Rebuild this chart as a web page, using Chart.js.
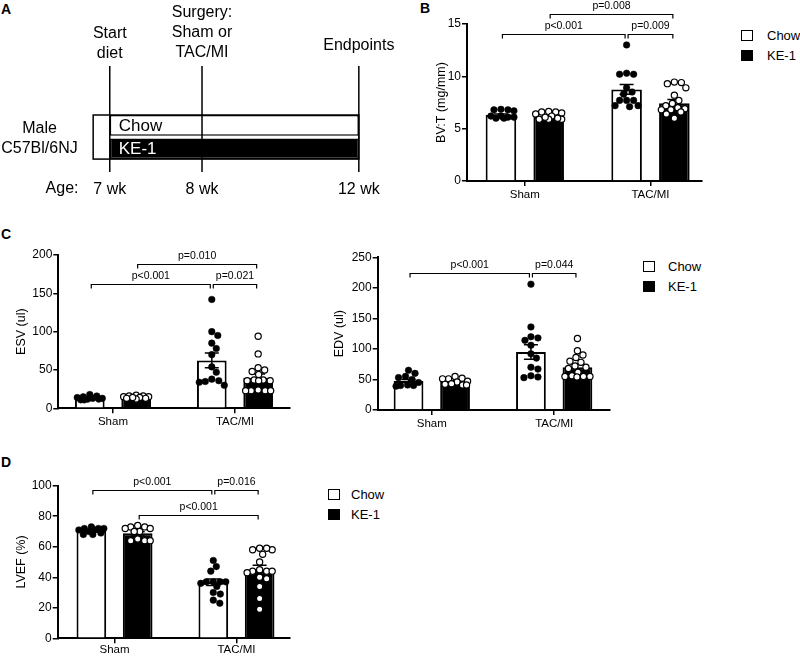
<!DOCTYPE html>
<html>
<head>
<meta charset="utf-8">
<script src="https://cdn.jsdelivr.net/npm/chart.js@4.4.1/dist/chart.umd.min.js"></script>
<style>
  body { margin: 0; background: #fff; font-family: 'Liberation Sans', Arial, sans-serif; color: #000; }
  #page { position: relative; width: 800px; height: 657px; overflow: hidden; }
  canvas { position: absolute; }
  .tag { position: absolute; font-weight: bold; font-size: 14px; line-height: 14px; }
  .legend { position: absolute; font-size: 13px; }
  .legend .row { display: flex; align-items: center; height: 20px; }
  .legend .box { width: 12px; height: 11px; border: 1.5px solid #000; box-sizing: border-box; }
</style>
</head>
<body>
<div id="page">
  <div class="tag" style="left:1px; top:2px">A</div>
  <div class="tag" style="left:420px; top:1px">B</div>
  <div class="tag" style="left:1px; top:227px">C</div>
  <div class="tag" style="left:1px; top:455px">D</div>

  <canvas id="chartA" width="400" height="200" style="left:0; top:0"></canvas>
  <canvas id="chartB" width="300" height="205" style="left:420px; top:0"></canvas>
  <canvas id="chartESV" width="300" height="197" style="left:0; top:235px"></canvas>
  <canvas id="chartEDV" width="300" height="197" style="left:320px; top:237px"></canvas>
  <canvas id="chartD" width="300" height="192" style="left:0; top:465px"></canvas>

  <div class="legend" id="legB" style="left:741px; top:25px" data-gap="14"></div>
  <div class="legend" id="legC" style="left:643px; top:256px" data-gap="13"></div>
  <div class="legend" id="legD" style="left:328px; top:484px" data-gap="11"></div>
</div>

<script>
const FONT = "'Liberation Sans', Arial, sans-serif";
Chart.defaults.font.family = FONT;
Chart.defaults.color = '#000';

// ---- panel A: study timeline (schematic, not to scale)
const timelineAges = ['7 wk', '8 wk', '12 wk'];
const timelinePos = [0, 1, 2.7];
const timelineEvents = [['Start', 'diet'], ['Surgery:', 'Sham or', 'TAC/MI'], ['Endpoints']];
const acclimationStart = -0.18;
const mouseLabel = ['Male', 'C57Bl/6NJ'];

// ---- shared categories
const groups = ['Sham', 'TAC/MI'];
const diets = ['Chow', 'KE-1'];

// ---- panel B: BV:T (mg/mm)   [Sham points], [TAC/MI points]
const bvtChow = [[6.8, 6.8, 6.85, 6.7, 6.2, 6.1, 6.0, 6.0, 6.1, 6.2],
                 [13.0, 10.3, 10.2, 10.2, 8.9, 8.5, 8.3, 7.7, 7.7, 7.7, 7.2, 7.2, 7.1]];
const bvtKe = [[6.6, 6.65, 6.6, 6.5, 6.4, 6.2, 5.9, 5.9, 6.0, 5.9, 6.1],
               [9.4, 9.3, 9.45, 8.9, 8.2, 7.7, 7.4, 7.2, 7.0, 6.9, 6.8, 6.8, 6.6, 6.4, 6.0]];
const bvtMean = [[6.3, 8.75], [6.15, 7.42]];
const bvtSem = [[0.1, 0.47], [0.08, 0.36]];
const bvtBrackets = [[0, 0, 1, 0, 14, 'p<0.001'], [1, 0, 1, 1, 14, 'p=0.009'], [0, 1, 1, 1, 16, 'p=0.008']];

// ---- panel C: ESV (ul)
const esvChow = [[11, 12, 13, 14, 15, 16, 12, 11, 18, 13],
                 [142, 100, 95, 85, 78, 70, 54, 47, 38, 36, 34, 35, 30]];
const esvKe = [[16, 17, 16, 15, 14, 13, 12, 14, 15, 13],
               [94, 71, 53, 50, 48, 44, 37, 37, 36, 36, 36, 23, 23, 23, 23, 24]];
const esvMean = [[13.5, 62.5], [14, 40]];
const esvSem = [[0.8, 9.5], [0.6, 4.8]];
const esvBrackets = [[0, 0, 1, 0, 162, 'p<0.001'], [1, 0, 1, 1, 162, 'p=0.021'], [0, 1, 1, 1, 188, 'p=0.010']];

// ---- panel C: EDV (ul)
const edvChow = [[65, 60, 55, 53, 50, 45, 40, 39, 40, 41],
                 [206, 136, 120, 118, 114, 106, 92, 85, 70, 67, 56, 54, 53]];
const edvKe = [[55, 52, 51, 51, 47, 46, 43, 42, 41, 41],
               [117, 97, 90, 86, 80, 78, 72, 70, 68, 62, 56, 55, 55, 54, 55]];
const edvMean = [[47.5, 95], [46.5, 70]];
const edvSem = [[2.5, 12], [1.3, 5.5]];
const edvBrackets = [[0, 0, 1, 0, 224, 'p<0.001'], [1, 0, 1, 1, 224, 'p=0.044']];

// ---- panel D: LVEF (%)
const lvefChow = [[72, 71, 73, 72, 70, 69, 72, 68, 68, 71],
                  [51, 47, 44, 37, 37, 37, 37, 36, 34, 30, 29, 25, 23]];
const lvefKe = [[74, 73, 73, 72, 72, 70, 70, 64, 64, 64, 65],
                [59, 58, 58, 59, 55, 50, 45, 44, 44, 44, 43, 40, 39, 34, 26, 19]];
const lvefMean = [[70.3, 36.7], [68.8, 44.8]];
const lvefSem = [[0.5, 2.1], [1.1, 3.0]];
const lvefBrackets = [[0, 0, 1, 0, 97, 'p<0.001'], [1, 0, 1, 1, 97, 'p=0.016'], [0, 1, 1, 1, 81, 'p<0.001']];

// legends
document.querySelectorAll('.legend').forEach(el => {
  const gap = el.dataset.gap;
  el.innerHTML = diets.map((d, i) =>
    `<div class="row"><span class="box" style="background:${i === 0 ? '#fff' : '#000'}; margin-right:${gap}px"></span>${d}</div>`
  ).join('');
});

// ---------- panel A
const eventBaselines = [58, 57, 50];
const timelinePlugin = {
  id: 'timeline',
  afterDatasetsDraw(chart) {
    const { ctx } = chart;
    const x = chart.scales.x;
    const bars = chart.getDatasetMeta(0).data;
    const top = bars[0].y - bars[0].height / 2;
    const last = bars[bars.length - 1];
    const bottom = last.y + last.height / 2;
    const endX = x.getPixelForValue(timelinePos[timelinePos.length - 1]);
    const startX = x.getPixelForValue(acclimationStart);
    ctx.save();
    ctx.strokeStyle = '#000';
    ctx.lineWidth = 1.5;
    ctx.strokeRect(startX, top, endX - startX, bottom - top);
    timelinePos.forEach(p => {
      const px = x.getPixelForValue(p);
      ctx.beginPath();
      ctx.moveTo(px, 66);
      ctx.lineTo(px, 172);
      ctx.stroke();
    });

    ctx.fillStyle = '#000';
    ctx.font = '16px ' + FONT;
    ctx.textAlign = 'center';
    ctx.textBaseline = 'alphabetic';
    timelineEvents.forEach((lines, i) => {
      const px = x.getPixelForValue(timelinePos[i]);
      lines.forEach((t, j) => ctx.fillText(t, px, eventBaselines[i] - (lines.length - 1 - j) * 19.8));
    });
    ctx.fillText(mouseLabel[0], 39.5, 132.7);
    ctx.fillText(mouseLabel[1], 39.5, 152.7);
    ctx.textAlign = 'right';
    ctx.fillText('Age:', 78.5, 193.3);

    ctx.font = '17px ' + FONT;
    ctx.textAlign = 'left';
    ctx.textBaseline = 'middle';
    bars.forEach((b, i) => {
      ctx.fillStyle = i === 0 ? '#000' : '#fff';
      ctx.fillText(diets[i], x.getPixelForValue(timelinePos[0]) + 9, b.y + 1);
    });
    ctx.restore();
  }
};

new Chart(document.getElementById('chartA'), {
  type: 'bar',
  data: {
    labels: diets,
    datasets: [{
      data: diets.map(() => [timelinePos[0], timelinePos[timelinePos.length - 1]]),
      backgroundColor: ['#fff', '#000'],
      borderColor: '#000',
      borderWidth: 1.5,
      borderSkipped: false,
      categoryPercentage: 1,
      barPercentage: 0.88
    }]
  },
  options: {
    indexAxis: 'y',
    responsive: false,
    animation: false,
    layout: { padding: { left: 82.1, right: 20.3, top: 113.6, bottom: 0 } },
    plugins: { legend: { display: false }, tooltip: { enabled: false } },
    scales: {
      x: {
        type: 'linear', min: -0.3, max: 2.9,
        afterBuildTicks: s => { s.ticks = timelinePos.map(v => ({ value: v })); },
        afterFit: s => { s.height = 39.5; },
        ticks: { callback: (v, i) => timelineAges[i], font: { size: 16 }, padding: 19, color: '#000', maxRotation: 0, autoSkip: false },
        grid: { display: false, drawTicks: false },
        border: { display: false }
      },
      y: { display: false }
    }
  },
  plugins: [timelinePlugin]
});

// ---------- bar + dot panels
function swarmOffsets(pys, maxHalf, diam) {
  const placed = [];
  const out = new Array(pys.length);
  const order = pys.map((_, i) => i).sort((a, b) => pys[a] - pys[b]);
  const cands = [0];
  for (let s = 0.5; s <= maxHalf; s += 0.5) cands.push(s, -s);
  order.forEach(i => {
    let best = 0, bestGap = -1;
    for (const dx of cands) {
      let gap = Infinity;
      for (const p of placed) gap = Math.min(gap, Math.hypot(p.dx - dx, p.y - pys[i]));
      if (gap >= diam) { best = dx; break; }
      if (gap > bestGap) { bestGap = gap; best = dx; }
    }
    placed.push({ dx: best, y: pys[i] });
    out[i] = best;
  });
  return out;
}

function semPlugin(sems) {
  return {
    id: 'semBars',
    afterDatasetDraw(chart, args) {
      if (args.meta.type !== 'bar') return;
      const ys = chart.scales.y, ctx = chart.ctx;
      ctx.save();
      ctx.strokeStyle = '#000';
      ctx.lineWidth = 1.5;
      args.meta.data.forEach((bar, g) => {
        const mean = chart.data.datasets[args.index].data[g].y;
        const s = sems[args.index][g];
        const y1 = ys.getPixelForValue(mean + s), y2 = ys.getPixelForValue(mean - s);
        ctx.beginPath();
        ctx.moveTo(bar.x, y1); ctx.lineTo(bar.x, y2);
        ctx.moveTo(bar.x - 7, y1); ctx.lineTo(bar.x + 7, y1);
        ctx.moveTo(bar.x - 7, y2); ctx.lineTo(bar.x + 7, y2);
        ctx.stroke();
      });
      ctx.restore();
    }
  };
}

function bracketPlugin(brackets) {
  return {
    id: 'brackets',
    afterDraw(chart) {
      const ctx = chart.ctx, ys = chart.scales.y;
      ctx.save();
      ctx.strokeStyle = '#000';
      ctx.fillStyle = '#000';
      ctx.lineWidth = 1.2;
      ctx.font = '10.5px ' + FONT;
      ctx.textAlign = 'center';
      ctx.textBaseline = 'alphabetic';
      brackets.forEach(([g1, d1, g2, d2, val, label]) => {
        const x1 = chart.getDatasetMeta(d1).data[g1].x + 1.5;
        const x2 = chart.getDatasetMeta(d2).data[g2].x - 1.5;
        const y = Math.round(ys.getPixelForValue(val)) + 0.5;
        ctx.beginPath();
        ctx.moveTo(x1, y + 4); ctx.lineTo(x1, y); ctx.lineTo(x2, y); ctx.lineTo(x2, y + 4);
        ctx.stroke();
        ctx.fillText(label, (x1 + x2) / 2, y - 6);
      });
      ctx.restore();
    }
  };
}

function barPanel(id, cfg) {
  const chart = new Chart(document.getElementById(id), {
    type: 'bar',
    data: {
      datasets: [
        ...diets.map((d, i) => ({
          type: 'bar', label: d, order: 2,
          data: cfg.means[i].map((v, g) => ({ x: g, y: v })),
          backgroundColor: i === 0 ? '#fff' : '#000',
          borderColor: '#000',
          borderWidth: 2,
          categoryPercentage: 0.76,
          barPercentage: 0.64
        })),
        ...diets.map((d, i) => ({
          type: 'scatter', label: d + ' animals', order: 1,
          data: [],
          pointRadius: i === 0 ? 3.3 : 3.1,
          pointBackgroundColor: i === 0 ? '#000' : '#fff',
          pointBorderColor: '#000',
          pointBorderWidth: i === 0 ? 0.5 : 1.2
        }))
      ]
    },
    options: {
      responsive: false,
      animation: false,
      layout: { padding: cfg.padding },
      plugins: { legend: { display: false }, tooltip: { enabled: false } },
      scales: {
        x: {
          type: 'linear', min: cfg.xRange[0], max: cfg.xRange[1], offset: false,
          afterBuildTicks: s => { s.ticks = groups.map((g, i) => ({ value: i })); },
          afterFit: s => { s.height = cfg.xAxisHeight; },
          ticks: { callback: v => groups[v], font: { size: 11.5 }, padding: cfg.xPad, color: '#000', maxRotation: 0, autoSkip: false },
          grid: { drawOnChartArea: false, offset: false, color: '#000', lineWidth: 1.5, tickLength: 5 },
          border: { color: '#000', width: 2 }
        },
        y: {
          min: 0, max: cfg.yMax,
          ticks: { stepSize: cfg.yStep, font: { size: 12 }, padding: 1, color: '#000' },
          afterFit: s => { s.width = cfg.yAxisWidth; },
          grid: { drawOnChartArea: false, color: '#000', lineWidth: 1.5, tickLength: 5 },
          border: { color: '#000', width: 2 },
          title: { display: true, text: cfg.yTitle, font: { size: 12.5 }, padding: 0, color: '#000' }
        }
      }
    },
    plugins: [semPlugin(cfg.sems), bracketPlugin(cfg.brackets)]
  });

  // spread each group's animals across its bar, using the chart's own scales
  const xs = chart.scales.x, ys = chart.scales.y;
  diets.forEach((d, i) => {
    const bars = chart.getDatasetMeta(i).data;
    chart.data.datasets[2 + i].data = cfg.points[i].flatMap((vals, g) => {
      const bar = bars[g];
      const offs = swarmOffsets(vals.map(v => ys.getPixelForValue(v)), bar.width / 2 - 2, 6.8);
      return vals.map((v, k) => ({ x: xs.getValueForPixel(bar.x + offs[k]), y: v }));
    });
  });
  chart.update('none');
  return chart;
}

barPanel('chartB', {
  points: [bvtChow, bvtKe], means: bvtMean, sems: bvtSem, brackets: bvtBrackets,
  yTitle: 'BV:T (mg/mm)', yMax: 15, yStep: 5,
  xRange: [-0.46, 1.41],
  padding: { left: 14, right: 18, top: 24, bottom: 0 },
  yAxisWidth: 33, xAxisHeight: 24, xPad: 2
});

barPanel('chartESV', {
  points: [esvChow, esvKe], means: esvMean, sems: esvSem, brackets: esvBrackets,
  yTitle: 'ESV (ul)', yMax: 200, yStep: 50,
  xRange: [-0.448, 1.451],
  padding: { left: 14, right: 10, top: 20, bottom: 0 },
  yAxisWidth: 44.3, xAxisHeight: 23.7, xPad: 2
});

barPanel('chartEDV', {
  points: [edvChow, edvKe], means: edvMean, sems: edvSem, brackets: edvBrackets,
  yTitle: 'EDV (ul)', yMax: 250, yStep: 50,
  xRange: [-0.442, 1.456],
  padding: { left: 12.5, right: 10, top: 20.3, bottom: 0 },
  yAxisWidth: 45.2, xAxisHeight: 24, xPad: 2
});

barPanel('chartD', {
  points: [lvefChow, lvefKe], means: lvefMean, sems: lvefSem, brackets: lvefBrackets,
  yTitle: 'LVEF (%)', yMax: 100, yStep: 20,
  xRange: [-0.466, 1.439],
  padding: { left: 14, right: 10, top: 20.7, bottom: 0 },
  yAxisWidth: 43.7, xAxisHeight: 18.7, xPad: 0
});
</script>
</body>
</html>
